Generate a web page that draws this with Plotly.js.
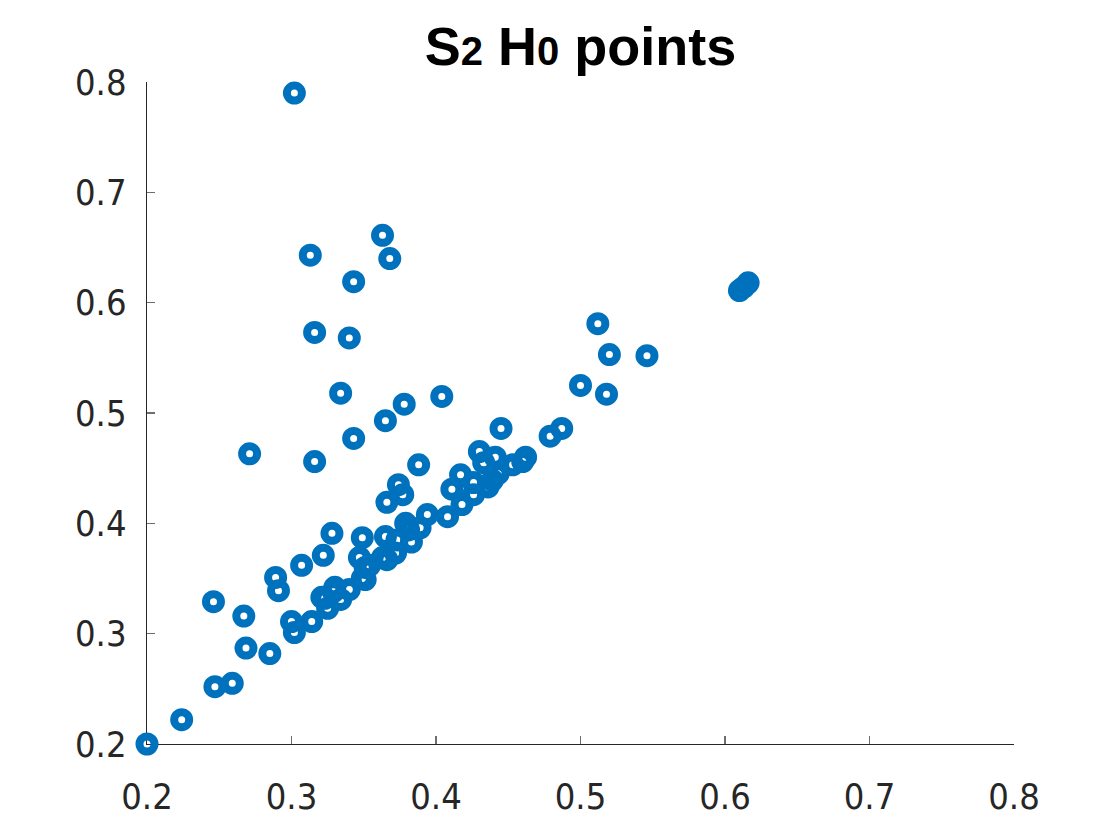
<!DOCTYPE html>
<html>
<head>
<meta charset="utf-8">
<script src="https://cdn.plot.ly/plotly-3.0.1.min.js"></script>
<style>html,body{margin:0;padding:0;background:#fff;}#chart{width:1120px;height:840px;}</style>
</head>
<body>
<div id="chart"></div>
<script>
// S2 H0 points (birth, death)
const birth = [
  0.302, 0.313, 0.363, 0.368, 0.343, 0.316, 0.340, 0.334, 0.378, 0.404,
  0.365, 0.343, 0.316, 0.271, 0.388, 0.374, 0.377, 0.366,
  0.512, 0.520, 0.546, 0.500, 0.518, 0.610, 0.613, 0.616, 0.487, 0.479, 0.445,
  0.430, 0.441, 0.433, 0.417, 0.411, 0.426, 0.426, 0.439, 0.443, 0.453,
  0.460, 0.462, 0.436, 0.408, 0.394, 0.418, 0.379,
  0.349, 0.347, 0.383, 0.365, 0.373, 0.372, 0.381, 0.363, 0.354, 0.366,
  0.351, 0.340, 0.330, 0.334, 0.323, 0.325, 0.349, 0.351, 0.389,
  0.200, 0.224, 0.246, 0.247, 0.259, 0.267, 0.2685, 0.285, 0.289, 0.291,
  0.307, 0.300, 0.302, 0.314, 0.322, 0.328, 0.321, 0.329
];
const death = [
  0.790, 0.643, 0.661, 0.640, 0.619, 0.573, 0.568, 0.518, 0.508, 0.515,
  0.493, 0.477, 0.456, 0.463, 0.453, 0.435, 0.426, 0.419,
  0.581, 0.553, 0.552, 0.525, 0.517, 0.611, 0.614, 0.618, 0.486, 0.479, 0.486,
  0.465, 0.460, 0.455, 0.444, 0.431, 0.437, 0.426, 0.439, 0.445, 0.453,
  0.456, 0.460, 0.433, 0.406, 0.408, 0.417, 0.400,
  0.387, 0.369, 0.383, 0.388, 0.385, 0.373, 0.394, 0.369, 0.362, 0.367,
  0.349, 0.340, 0.342, 0.331, 0.332, 0.323, 0.350, 0.360, 0.396,
  0.200, 0.222, 0.329, 0.252, 0.255, 0.316, 0.287, 0.282, 0.351, 0.339,
  0.362, 0.311, 0.301, 0.311, 0.371, 0.391, 0.333, 0.338
];
const tickVals = [0.2, 0.3, 0.4, 0.5, 0.6, 0.7, 0.8];
const tickText = ['0.2', '0.3', '0.4', '0.5', '0.6', '0.7', '0.8'];

const trace = {
  x: birth, y: death, type: 'scatter', mode: 'markers', cliponaxis: false,
  marker: {symbol: 'circle-open', size: 15, color: '#0072BD', line: {width: 8, color: '#0072BD'}},
  hoverinfo: 'x+y'
};

const axisCommon = {
  range: [0.2, 0.8], tickvals: tickVals, ticktext: tickText,
  showgrid: false, zeroline: false, showline: true, linecolor: '#262626', linewidth: 1.3,
  ticks: 'inside', ticklen: 8, tickcolor: '#6e6e6e', tickwidth: 1.3,
  tickfont: {family: 'DejaVu Sans Condensed, DejaVu Sans', size: 36, color: '#262626', weight: 500},
  layer: 'below traces', fixedrange: true
};

const layout = {
  width: 1120, height: 840,
  margin: {l: 147, r: 106, t: 82, b: 96},
  paper_bgcolor: '#ffffff', plot_bgcolor: '#ffffff',
  showlegend: false,
  title: {
    text: 'S<span style="font-size:40px">2</span> H<span style="font-size:40px">0</span> points',
    font: {family: 'Liberation Sans Narrow, Liberation Sans, Arial', size: 54, color: '#000000', weight: 'bold'},
    x: 0.5, xref: 'paper', xanchor: 'center', y: 0.945, yref: 'container', yanchor: 'middle'
  },
  xaxis: Object.assign({}, axisCommon, {ticklabelstandoff: 20}),
  yaxis: Object.assign({}, axisCommon, {ticklabelstandoff: 12})
};

Plotly.newPlot('chart', [trace], layout, {displayModeBar: false, staticPlot: true});
</script>
</body>
</html>
